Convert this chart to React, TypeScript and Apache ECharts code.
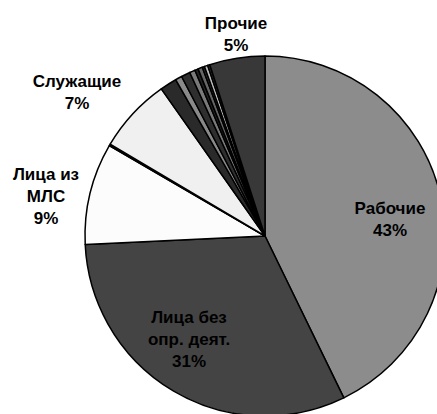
import React, { useEffect, useRef } from "react";
import * as echarts from "echarts";

const names = [
  "Рабочие",
  "Лица без\nопр. деят.",
  "Лица из\nМЛС",
  "s0",
  "Служащие",
  "s1", "s2", "s3", "s4", "s5", "s6", "s7", "s8", "s9",
  "Прочие",
];
const values = [42.7, 31.4, 9.1, 0.15, 6.7, 1.5, 0.6, 0.8, 0.5, 0.3, 0.4, 0.2, 0.3, 0.2, 4.95];
const colors = [
  "#8c8c8c", "#444444", "#fcfcfc", "#000000", "#f0f0f0",
  "#2a2a2a", "#8a8a8a", "#2e2e2e", "#7a7a7a", "#222222", "#666666", "#333333", "#bbbbbb", "#2a2a2a",
  "#383838",
];
const showLabel = [true, true, true, false, true, false, false, false, false, false, false, false, false, false, true];
const labelPos: Record<number, [number, number]> = {
  0: [390, 219],
  1: [189, 339],
  2: [46, 196],
  4: [77, 92],
  14: [236, 34],
};

export default function App() {
  const ref = useRef<HTMLDivElement>(null);
  useEffect(() => {
    if (!ref.current) return;
    const chart = echarts.init(ref.current, undefined, { renderer: "svg" });
    chart.setOption({
      animation: false,
      backgroundColor: "#ffffff",
      series: [
        {
          type: "pie",
          center: [265, 236],
          radius: 180,
          startAngle: 90,
          clockwise: true,
          avoidLabelOverlap: false,
          data: names.map((n, i) => ({
            name: n,
            value: values[i],
            itemStyle: { color: colors[i] },
            label: { show: showLabel[i] },
          })),
          itemStyle: { borderColor: "#000000", borderWidth: 1.5 },
          label: {
            show: true,
            position: "outside",
            formatter: (p: any) => `${p.name}\n${Math.round(p.percent)}%`,
            fontFamily: "Liberation Sans, Arial, sans-serif",
            fontWeight: "bold",
            fontSize: 17,
            lineHeight: 22,
            color: "#000000",
            align: "center",
          },
          labelLine: { show: false },
          labelLayout: (p: any) => {
            const pos = labelPos[p.dataIndex];
            if (!pos) return {};
            return { x: pos[0], y: pos[1], align: "center", verticalAlign: "middle" };
          },
          emphasis: { disabled: true },
        },
      ],
    });
    return () => chart.dispose();
  }, []);
  return <div ref={ref} style={{ position: "absolute", left: 0, top: 0, width: 437, height: 414 }} />;
}
